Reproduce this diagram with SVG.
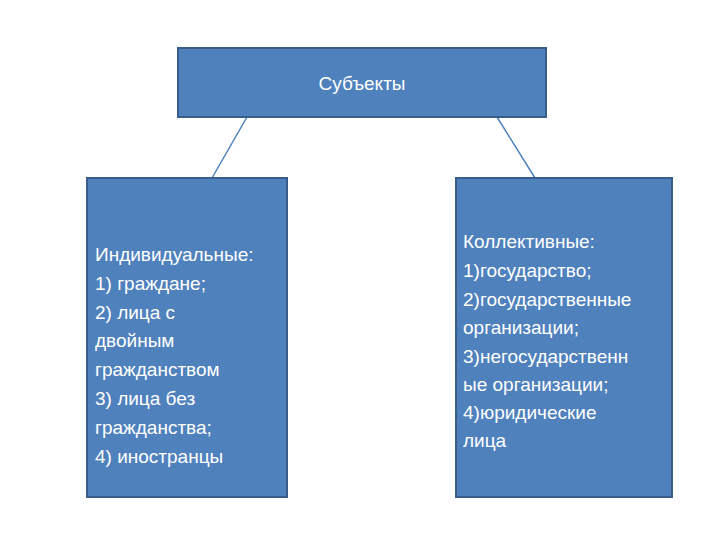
<svg xmlns="http://www.w3.org/2000/svg" width="720" height="540" viewBox="0 0 720 540">
<style>
.box{fill:#4f81bd;stroke:#385d8a;stroke-width:2}
text{font-family:"Liberation Sans",Arial,sans-serif;font-size:19px;fill:#fff}
.c{stroke:#4f81bd;stroke-width:1.5;fill:none}
</style>
<rect width="720" height="540" fill="#fff"/>
<g id="connectors">
<line class="c" x1="247" y1="117" x2="212" y2="178"/>
<line class="c" x1="497" y1="117" x2="535" y2="178"/>
</g>
<g id="top"><rect class="box" x="178" y="48" width="368" height="69"/>
<text x="362" y="90" text-anchor="middle">Субъекты</text></g>
<g id="left"><rect class="box" x="87" y="178" width="200" height="319"/>
<text x="95" y="261">Индивидуальные:</text>
<text x="95" y="290">1) граждане;</text>
<text x="95" y="319">2) лица с</text>
<text x="95" y="347">двойным</text>
<text x="95" y="376">гражданством</text>
<text x="95" y="405">3) лица без</text>
<text x="95" y="434">гражданства;</text>
<text x="95" y="463">4) иностранцы</text></g>
<g id="right"><rect class="box" x="456" y="178" width="216" height="319"/>
<text x="463" y="248">Коллективные:</text>
<text x="463" y="277">1)государство;</text>
<text x="463" y="306">2)государственные</text>
<text x="463" y="334">организации;</text>
<text x="463" y="363">3)негосударственн</text>
<text x="463" y="391">ые организации;</text>
<text x="463" y="419">4)юридические</text>
<text x="463" y="447">лица</text></g>
</svg>
